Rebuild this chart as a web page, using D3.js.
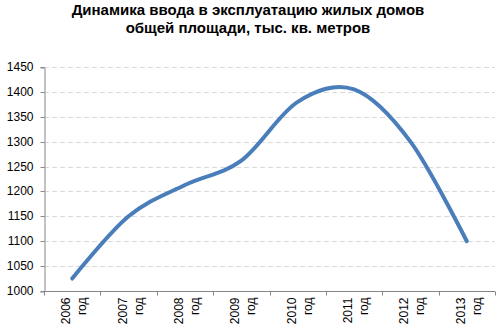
<!DOCTYPE html>
<html><head><meta charset="utf-8">
<script src="https://cdn.jsdelivr.net/npm/d3@7/dist/d3.min.js"></script>
<style>body{margin:0;background:#fff}svg{display:block}text{font-family:"Liberation Sans",Arial,sans-serif}</style>
</head><body><svg id="c" width="499" height="336"></svg>
<script>
const titleLines = ["Динамика ввода в эксплуатацию жилых домов", "общей площади, тыс. кв. метров"];
const years = ["2006", "2007", "2008", "2009", "2010", "2011", "2012", "2013"];
const yearSuffix = "год";
const values = [1025, 1150, 1213, 1262, 1380, 1405, 1300, 1100];
const yTicks = [1000, 1050, 1100, 1150, 1200, 1250, 1300, 1350, 1400, 1450];

(function () {
const svg = d3.select("#c");
const mL = 44, mR = 495, mT = 67, mB = 291;

svg.append("g").selectAll("text").data(titleLines).join("text")
  .attr("x", 248).attr("y", (d, i) => 15 + i * 17.5)
  .attr("text-anchor", "middle").attr("font-size", 15).attr("font-weight", "bold")
  .attr("fill", "#000").text(d => d);

const x = d3.scaleBand().domain(years).range([mL, mR]).padding(0);
const y = d3.scaleLinear().domain([1000, 1450]).range([mB, mT]);

svg.append("g").selectAll("line").data(yTicks.slice(1)).join("line")
  .attr("x1", mL).attr("x2", mR)
  .attr("y1", d => Math.round(y(d)) + 0.5).attr("y2", d => Math.round(y(d)) + 0.5)
  .attr("stroke", "#d9d9d9").attr("stroke-dasharray", "5,3").attr("stroke-width", 1);

const ya = svg.append("g").attr("transform", `translate(${mL + 0.5},0.5)`)
  .call(d3.axisLeft(y).tickValues(yTicks).tickFormat(d3.format("d")).tickSize(4).tickPadding(7));
ya.select(".domain").attr("stroke", "#868686");
ya.selectAll(".tick line").attr("stroke", "#868686");
ya.selectAll(".tick text").attr("font-size", 12).attr("fill", "#000");
ya.selectAll(".tick").attr("transform", d => `translate(0,${Math.round(y(d))})`);

const xa = svg.append("g").attr("transform", `translate(0,${mB + 0.5})`);
xa.append("line").attr("x1", mL).attr("x2", mR).attr("stroke", "#868686");
const bounds = years.map(d => x(d)).concat([mR]);
xa.selectAll("line.t").data(bounds).join("line").attr("class", "t")
  .attr("x1", d => Math.round(d) + 0.5).attr("x2", d => Math.round(d) + 0.5)
  .attr("y1", 0).attr("y2", 4).attr("stroke", "#868686");
const lab = xa.selectAll("g.l").data(years).join("g").attr("class", "l")
  .attr("transform", d => `translate(${x(d) + x.bandwidth() / 2},6) rotate(-90)`);
lab.append("text").attr("x", 0).attr("y", -2).attr("text-anchor", "end")
  .attr("font-size", 12).attr("fill", "#000").text(d => d);
lab.append("text").attr("x", 0).attr("y", 14).attr("text-anchor", "end")
  .attr("font-size", 12).attr("fill", "#000").text(yearSuffix);

const line = d3.line()
  .x((d, i) => x(years[i]) + x.bandwidth() / 2)
  .y(d => y(d))
  .curve(d3.curveCardinal.tension(0));
svg.append("path").datum(values).attr("d", line)
  .attr("fill", "none").attr("stroke", "#4a7ebb").attr("stroke-width", 4)
  .attr("stroke-linecap", "round").attr("stroke-linejoin", "round");
})();
</script></body></html>
